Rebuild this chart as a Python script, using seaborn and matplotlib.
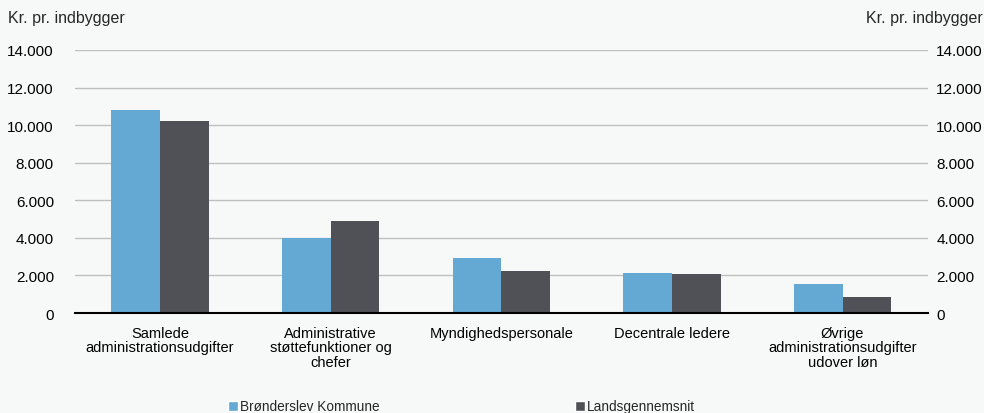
import matplotlib
matplotlib.use("Agg")
import matplotlib.pyplot as plt
import matplotlib.ticker as mticker
from matplotlib.patches import Patch
import seaborn as sns
import pandas as pd

categories = ["Samlede\nadministrationsudgifter",
              "Administrative\nstøttefunktioner og\nchefer",
              "Myndighedspersonale",
              "Decentrale ledere",
              "Øvrige\nadministrationsudgifter\nudover løn"]
series_names = ["Brønderslev Kommune", "Landsgennemsnit"]
bronderslev = [10800, 4000, 2950, 2120, 1550]
lands = [10200, 4880, 2240, 2070, 840]
yticks = [0, 2000, 4000, 6000, 8000, 10000, 12000, 14000]
ylabel = "Kr. pr. indbygger"

colors = ["#63a9d4", "#505157"]
bg = "#f7f9f9"

df = pd.DataFrame({
    "Kategori": categories * 2,
    "Serie": [series_names[0]] * 5 + [series_names[1]] * 5,
    "Værdi": bronderslev + lands,
})

sns.set_theme(style="white")
plt.rcParams["font.family"] = ["Liberation Sans", "DejaVu Sans"]

fig = plt.figure(figsize=(9.84, 4.14), dpi=100, facecolor=bg)
ax = fig.add_axes([0.076, 0.2415, 0.867, 0.6355])
ax.set_facecolor(bg)

sns.barplot(data=df, x="Kategori", y="Værdi", hue="Serie", order=categories,
            hue_order=series_names, palette=colors, width=0.57, linewidth=0,
            saturation=1, ax=ax, legend=False)

ax.set_ylim(0, 14000)
ax.set_xlim(-0.5, 4.5)
ax.set_yticks(yticks)
fmt = mticker.FuncFormatter(lambda v, p: f"{int(v):,}".replace(",", "."))
ax.yaxis.set_major_formatter(fmt)
ax.grid(axis="y", color="#bfbfbf", linewidth=1)
ax.set_axisbelow(True)
for s in ["top", "right", "left"]:
    ax.spines[s].set_visible(False)
ax.spines["bottom"].set_color("black")
ax.spines["bottom"].set_linewidth(1.5)
ax.set_xlabel("")
ax.set_ylabel("")
ax.tick_params(axis="y", length=0, labelsize=11, colors="black", pad=15)
ax.tick_params(axis="x", which="major", length=0, labelsize=10.5, colors="black", pad=9)
for lbl in ax.get_xticklabels():
    lbl.set_linespacing(1.05)
ax.set_xticks([-0.5, 0.5, 1.5, 2.5, 3.5, 4.5], minor=True)
ax.tick_params(axis="x", which="minor", length=6, width=1, color="black", direction="out")

ax2 = ax.twinx()
ax2.set_ylim(0, 14000)
ax2.set_yticks(yticks)
ax2.yaxis.set_major_formatter(fmt)
ax2.tick_params(axis="y", length=0, labelsize=11, colors="black", pad=6)
for s in ax2.spines.values():
    s.set_visible(False)
ax2.grid(False)

fig.text(0.008, 0.955, ylabel, fontsize=11.5, ha="left", va="center")
fig.text(0.880, 0.955, ylabel, fontsize=11.5, ha="left", va="center")

handles = [Patch(facecolor=colors[0], label=series_names[0]),
           Patch(facecolor=colors[1], label=series_names[1])]
fig.legend(handles=handles, loc="center", bbox_to_anchor=(0.469, 0.016), ncol=2,
           frameon=False, fontsize=9.8, handlelength=0.75, handleheight=0.75,
           handletextpad=0.15, columnspacing=14.3, borderpad=0, borderaxespad=0)

fig.savefig("out.png", dpi=100, facecolor=bg)
